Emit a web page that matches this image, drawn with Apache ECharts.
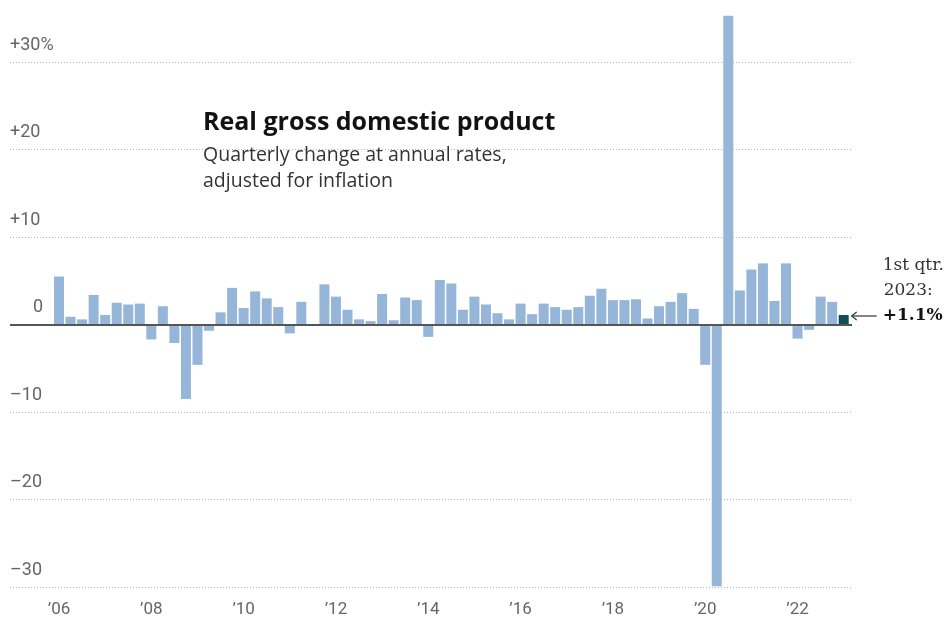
<!DOCTYPE html>
<html>
<head>
<meta charset="utf-8">
<script src="https://cdn.jsdelivr.net/npm/echarts@6/dist/echarts.min.js"></script>
<style>
  html, body { margin: 0; padding: 0; background: #fff; }
  #chart { width: 946px; height: 623px; }
</style>
</head>
<body>
<div id="chart"></div>
<script>
// ---- Data ----
const years = ['2006','2007','2008','2009','2010','2011','2012','2013','2014','2015','2016','2017','2018','2019','2020','2021','2022','2023'];
const quarters = [];
years.forEach(y => { ['Q1','Q2','Q3','Q4'].forEach(q => { if (quarters.length < 69) quarters.push(y + ' ' + q); }); });

const gdpChange = [
  5.5, 0.9, 0.6, 3.4,
  1.1, 2.5, 2.3, 2.4,
  -1.7, 2.1, -2.1, -8.5,
  -4.6, -0.7, 1.4, 4.2,
  1.9, 3.8, 3.0, 2.0,
  -1.0, 2.6, -0.1, 4.6,
  3.2, 1.7, 0.6, 0.4,
  3.5, 0.5, 3.1, 2.8,
  -1.4, 5.1, 4.7, 1.7,
  3.2, 2.3, 1.3, 0.6,
  2.4, 1.2, 2.4, 2.0,
  1.7, 2.0, 3.3, 4.1,
  2.8, 2.8, 2.9, 0.7,
  2.1, 2.6, 3.6, 1.8,
  -4.6, -29.9, 35.3, 3.9,
  6.3, 7.0, 2.7, 7.0,
  -1.6, -0.6, 3.2, 2.6,
  1.1
];

const yearTickIndex = [0, 8, 16, 24, 32, 40, 48, 56, 64];
const yearTickLabels = ['\u201906', '\u201908', '\u201910', '\u201912', '\u201914', '\u201916', '\u201918', '\u201920', '\u201922'];

const yTicks = [-30, -20, -10, 0, 10, 20, 30];

const titleText = 'Real gross domestic product';
const subtitleText = 'Quarterly change at annual rates,\nadjusted for inflation';
const noteLines = ['1st qtr.', '2023:'];
const noteValue = '+1.1%';

// ---- Styles ----
const SANS = 'Roboto, "Noto Sans", sans-serif';
const HEAD = '"Open Sans", Roboto, sans-serif';
const SERIF = '"DejaVu Serif", "Liberation Serif", serif';
const barColor = '#95b5d9';
const lastColor = '#0e4f58';

const lastIdx = gdpChange.length - 1;

const chart = echarts.init(document.getElementById('chart'), null, { renderer: 'canvas' });

const option = {
  animation: false,
  backgroundColor: '#ffffff',
  title: {
    left: 198,
    top: 104,
    text: titleText,
    textStyle: { fontFamily: HEAD, fontSize: 25, fontWeight: 'bold', color: '#121212', lineHeight: 28 },
    subtext: subtitleText,
    subtextStyle: { fontFamily: HEAD, fontSize: 19.5, color: '#333333', lineHeight: 26 },
    itemGap: 5
  },
  grid: { left: 10, right: 94, top: 15, bottom: 36, containLabel: false },
  xAxis: {
    type: 'value',
    min: -4.246,
    max: 68.72,
    axisLine: { show: false },
    axisTick: { show: false },
    splitLine: { show: false },
    axisLabel: {
      customValues: yearTickIndex,
      formatter: v => { const k = yearTickIndex.indexOf(Math.round(v)); return k >= 0 ? yearTickLabels[k] : ''; },
      fontFamily: SANS, fontSize: 17, color: '#666666', margin: 14
    }
  },
  yAxis: {
    type: 'value',
    min: -30,
    max: 35.4,
    interval: 10,
    axisLine: { show: false },
    axisTick: { show: false },
    splitLine: {
      show: true,
      showMaxLine: false,
      lineStyle: { color: '#b0b0b0', width: 1, type: [1, 2] }
    },
    axisLabel: {
      inside: true,
      margin: 0,
      showMaxLabel: false,
      verticalAlign: 'bottom',
      padding: [0, 0, 8, 0],
      fontFamily: SANS, fontSize: 18, color: '#666666',
      formatter: v => {
        if (yTicks.indexOf(v) < 0) return '';
        if (v === 0) return '{z|0}';
        if (v === 30) return '+30%';
        if (v > 0) return '+' + v;
        return '\u2013' + Math.abs(v);
      },
      rich: { z: { padding: [0, 0, 0, 23], fontFamily: SANS, fontSize: 18, color: '#666666' } }
    }
  },
  series: [{
    type: 'bar',
    barWidth: 10,
    data: gdpChange.map((v, i) => ({
      value: [i, v],
      name: quarters[i],
      itemStyle: { color: i === lastIdx ? lastColor : barColor }
    })),
    markLine: {
      silent: true,
      symbol: 'none',
      label: { show: false },
      lineStyle: { color: '#555555', width: 2, type: 'solid' },
      data: [{ yAxis: 0 }]
    }
  }]
};

chart.setOption(option);

// Annotation anchored on the last bar
const p = chart.convertToPixel({ gridIndex: 0 }, [lastIdx, gdpChange[lastIdx]]);
const ax = p[0] + 8, ay = p[1] + 1;
const tx = ax + 31;
chart.setOption({
  graphic: [
    { type: 'line', shape: { x1: ax, y1: ay, x2: ax + 25, y2: ay }, style: { stroke: '#333', lineWidth: 1.2 } },
    { type: 'polyline', shape: { points: [[ax + 5, ay - 4], [ax, ay], [ax + 5, ay + 4]] }, style: { stroke: '#333', lineWidth: 1.2, fill: null } },
    { type: 'text', x: tx, y: ay, style: { text: noteValue, font: 'bold 17px ' + SERIF, fill: '#121212', align: 'left', verticalAlign: 'middle' } },
    { type: 'text', x: tx + 1, y: ay - 25, style: { text: noteLines[1], font: '17px ' + SERIF, fill: '#333333', align: 'left', verticalAlign: 'middle' } },
    { type: 'text', x: tx, y: ay - 50, style: { text: noteLines[0], font: '17px ' + SERIF, fill: '#333333', align: 'left', verticalAlign: 'middle' } }
  ]
});
</script>
</body>
</html>
